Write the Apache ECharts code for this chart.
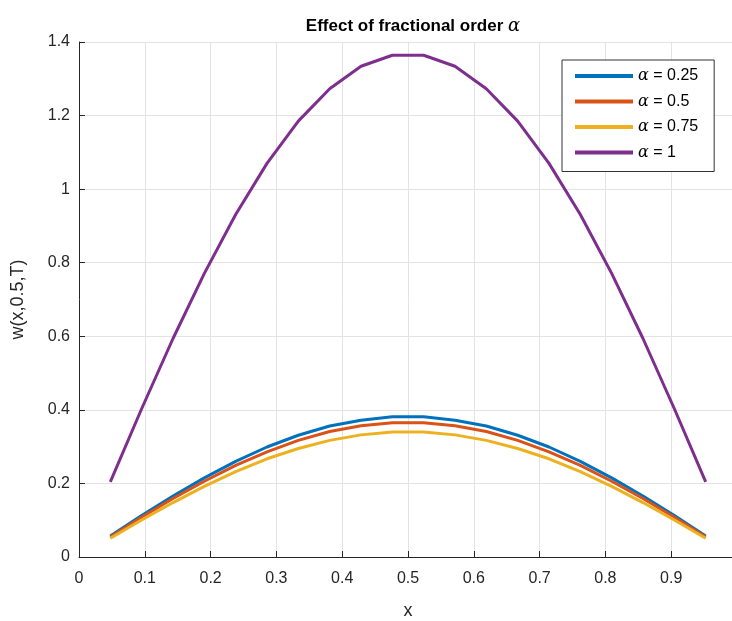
<!DOCTYPE html>
<html>
<head>
<meta charset="utf-8">
<script src="https://cdn.jsdelivr.net/npm/echarts@6/dist/echarts.min.js"></script>
<style>
html,body{margin:0;padding:0;background:#fff;}
#main{width:732px;height:621px;}
</style>
</head>
<body>
<div id="main"></div>
<script>
// grid points x = i/21, i = 1..20
var xs = [0.0476,0.0952,0.1429,0.1905,0.2381,0.2857,0.3333,0.3810,0.4286,0.4762,
          0.5238,0.5714,0.6190,0.6667,0.7143,0.7619,0.8095,0.8571,0.9048,0.9524];
var names = ['α = 0.25', 'α = 0.5', 'α = 0.75', 'α = 1'];
var colors = ['#0072BD', '#D95319', '#EDB120', '#7E2F8E'];
var w025 = [0.057,0.113,0.166,0.215,0.260,0.299,0.331,0.356,0.372,0.381,
            0.381,0.372,0.356,0.331,0.299,0.260,0.215,0.166,0.113,0.057];
var w050 = [0.0545,0.108,0.159,0.206,0.249,0.286,0.317,0.341,0.357,0.365,
            0.365,0.357,0.341,0.317,0.286,0.249,0.206,0.159,0.108,0.0545];
var w075 = [0.051,0.1005,0.148,0.192,0.232,0.267,0.295,0.317,0.332,0.340,
            0.340,0.332,0.317,0.295,0.267,0.232,0.192,0.148,0.1005,0.051];
var w100 = [0.204,0.403,0.594,0.771,0.931,1.070,1.185,1.273,1.334,1.364,
            1.364,1.334,1.273,1.185,1.070,0.931,0.771,0.594,0.403,0.204];

var txt = '#262626';
var font = 'Liberation Sans, Arial, Helvetica, sans-serif';

function pairs(ys) {
	var out = [];
	for (var i = 0; i < xs.length; i++) out.push([xs[i], ys[i]]);
	return out;
}

var allY = [w025, w050, w075, w100];
var series = [];
for (var k = 0; k < allY.length; k++) {
	series.push({
		name: names[k],
		type: 'line',
		data: pairs(allY[k]),
		symbol: 'none',
		lineStyle: {width: 3, color: colors[k]},
		itemStyle: {color: colors[k]}
	});
}

var myChar = echarts.init(document.getElementById('main'));
var myOption = {
	animation: false,
	textStyle: {fontFamily: font},
	title: {
		text: 'Effect of fractional order {a|α}',
		left: 408,
		textAlign: 'center',
		top: 12,
		textStyle: {
			color: '#000',
			fontSize: 17,
			fontWeight: 'bold',
			fontFamily: font,
			rich: {
				a: {fontFamily: 'DejaVu Serif', fontStyle: 'italic', fontSize: 18, fontWeight: 'normal', color: '#000'}
			}
		}
	},
	grid: {
		left: 79,
		right: -5,
		top: 42,
		bottom: 64,
		containLabel: false,
		outerBoundsMode: 'none'
	},
	legend: {
		orient: 'vertical',
		left: 562,
		top: 60,
		padding: [8, 16, 11, 13],
		icon: 'rect',
		itemWidth: 58,
		itemHeight: 4,
		itemGap: 9.5,
		backgroundColor: '#fff',
		borderColor: '#333',
		borderWidth: 1,
		borderRadius: 0,
		formatter: function(name) {
			return name.replace('α', '{a|α}');
		},
		textStyle: {
			color: '#000',
			fontSize: 16,
			lineHeight: 15,
			fontFamily: font,
			rich: {
				a: {fontFamily: 'DejaVu Serif', fontStyle: 'italic', fontSize: 16, lineHeight: 15, color: '#000'}
			}
		},
		data: names
	},
	xAxis: {
		type: 'value',
		min: 0,
		max: 1,
		interval: 0.1,
		name: 'x',
		nameLocation: 'middle',
		nameGap: 45,
		nameTextStyle: {color: txt, fontSize: 18, fontFamily: font},
		axisLine: {show: true, lineStyle: {color: txt, width: 1}},
		axisTick: {show: true, inside: true, length: 6, lineStyle: {color: txt}},
		axisLabel: {
			color: txt, fontSize: 16, margin: 14,
			showMaxLabel: true,
			formatter: function(v) { return String(Math.round(v * 10) / 10); }
		},
		splitLine: {show: true, lineStyle: {color: '#e3e3e3', width: 1}}
	},
	yAxis: {
		type: 'value',
		min: 0,
		max: 1.4,
		interval: 0.2,
		name: 'w(x,0.5,T)',
		nameLocation: 'middle',
		nameGap: 52,
		nameRotate: 90,
		nameTextStyle: {color: txt, fontSize: 18, fontFamily: font},
		axisLine: {show: true, lineStyle: {color: txt, width: 1}},
		axisTick: {show: true, inside: true, length: 6, lineStyle: {color: txt}},
		axisLabel: {
			color: txt, fontSize: 16, margin: 9,
			formatter: function(v) { return String(Math.round(v * 10) / 10); }
		},
		splitLine: {show: true, lineStyle: {color: '#e3e3e3', width: 1}}
	},
	color: colors,
	series: series
};
myChar.setOption(myOption);
</script>
</body>
</html>
